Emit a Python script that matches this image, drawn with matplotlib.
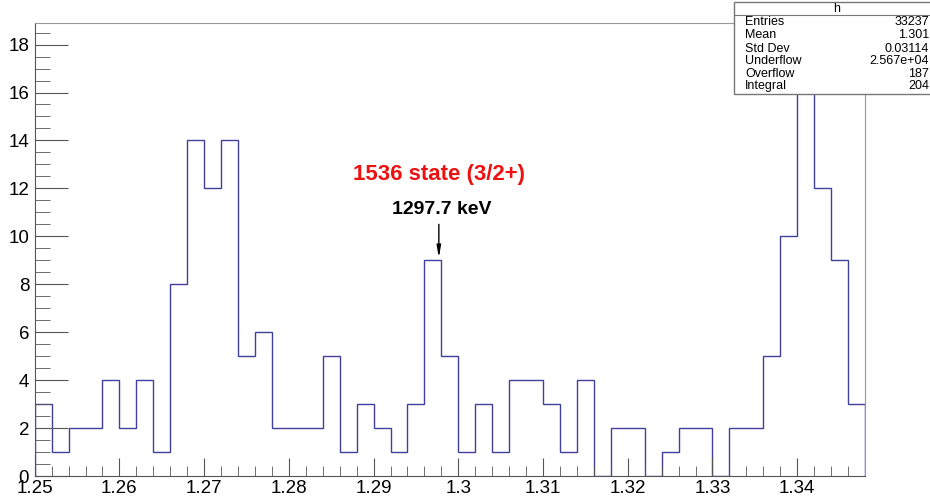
import numpy as np
import matplotlib.pyplot as plt
from matplotlib.patches import Rectangle
from matplotlib.lines import Line2D
from matplotlib.ticker import MultipleLocator

plt.rcParams['font.family'] = ['Liberation Sans', 'DejaVu Sans']

# histogram h: 49 bins of 2 keV starting at 1.25 MeV
x_low = 1.25
bin_width = 0.002
counts = [3, 1, 2, 2, 4, 2, 4, 1, 8, 14,
          12, 14, 5, 6, 2, 2, 2, 5, 1, 3,
          2, 1, 3, 9, 5, 1, 3, 1, 4, 4,
          3, 1, 4, 0, 2, 2, 0, 1, 2, 2,
          0, 2, 2, 5, 10, 18, 12, 9, 3]

stat_names = ["Entries", "Mean", "Std Dev", "Underflow", "Overflow", "Integral"]
stat_values = ["33237", "1.301", "0.03114", "2.567e+04", "187", "204"]

peak_energy = 1.2977
peak_label = "1297.7 keV"
state_label = "1536 state (3/2+)"

edges = x_low + bin_width * np.arange(len(counts) + 1)
W, H = 930, 498

fig = plt.figure(figsize=(9.3, 4.98), dpi=100)
ax = fig.add_axes([34.7 / W, 1 - 476 / H, (865 - 34.7) / W, (476 - 23) / H])

ax.stairs(counts, edges, baseline=0, color='#40409c', lw=1.0)

ax.set_xlim(edges[0], edges[-1])
ax.set_ylim(0, max(counts) * 1.05)

ax.xaxis.set_major_locator(MultipleLocator(0.01))
ax.xaxis.set_minor_locator(MultipleLocator(0.002))
ax.yaxis.set_major_locator(MultipleLocator(2))
ax.yaxis.set_minor_locator(MultipleLocator(0.5))
ax.xaxis.set_major_formatter(plt.FuncFormatter(
    lambda v, p: "1.3" if abs(v - 1.3) < 1e-9 else f"{v:.2f}"))

ax.tick_params(axis='both', which='both', direction='in', color='#555555',
               labelsize=13.5, top=False, right=False)
ax.tick_params(axis='y', which='major', length=24, pad=4)
ax.tick_params(axis='y', which='minor', length=11)
ax.tick_params(axis='x', which='major', length=13, pad=3)
ax.tick_params(axis='x', which='minor', length=7)

for side in ('left', 'bottom'):
    ax.spines[side].set_color('#555555')
for side in ('top', 'right'):
    ax.spines[side].set_color('#999999')

# peak marker
peak_bin = int((peak_energy - x_low) / bin_width)
ax.annotate('', xy=(peak_energy, counts[peak_bin] + 0.1),
            xytext=(peak_energy, counts[peak_bin] + 1.5),
            arrowprops=dict(arrowstyle='-|>,head_width=0.12,head_length=0.7',
                            color='black', lw=1.0, shrinkA=0, shrinkB=0))
ax.text(1.2981, 11.1, peak_label, ha='center', va='center',
        fontsize=14, fontweight='bold', color='black')
ax.text(1.29773, 12.6, state_label, ha='center', va='center',
        fontsize=16, fontweight='bold', color='#ee1111')

# statistics box
def fx(px):
    return px / W


def fy(py):
    return 1 - py / H


fig.patches.append(Rectangle((fx(734), fy(94)), fx(935) - fx(734), fy(2) - fy(94),
                             transform=fig.transFigure, facecolor='white',
                             edgecolor='#777777', lw=1.0, zorder=5))
fig.lines.append(Line2D([fx(734), fx(935)], [fy(15.3), fy(15.3)],
                        transform=fig.transFigure, color='#777777', lw=0.8, zorder=6))
fig.text(fx(837), fy(9), "h", ha='center', va='center', fontsize=9, zorder=7)
row_y = [22.3, 35.3, 49, 61, 74.3, 86.3]
for name, val, py in zip(stat_names, stat_values, row_y):
    fig.text(fx(745), fy(py), name, ha='left', va='center', fontsize=9, zorder=7)
    fig.text(fx(929), fy(py), val, ha='right', va='center', fontsize=9, zorder=7)

fig.savefig('out.png', dpi=100, facecolor='white')
